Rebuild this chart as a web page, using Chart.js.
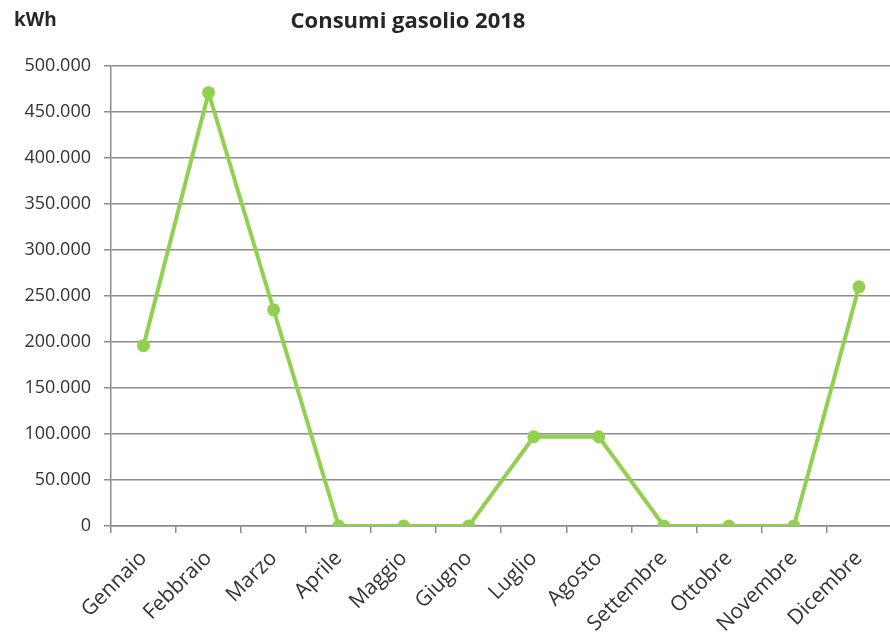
<!DOCTYPE html>
<html>
<head>
<meta charset="utf-8">
<script src="https://cdn.jsdelivr.net/npm/chart.js@4"></script>
<style>
    body { margin: 0; background: #fff; overflow: hidden; }
</style>
</head>
<body>
<canvas id="gas-chart" width="900" height="635"></canvas>
<script>
// Consumi gasolio 2018 (kWh)
const months = ['Gennaio', 'Febbraio', 'Marzo', 'Aprile', 'Maggio', 'Giugno',
    'Luglio', 'Agosto', 'Settembre', 'Ottobre', 'Novembre', 'Dicembre'];
const consumi = [196000, 471000, 235000, 0, 0, 0, 97000, 97000, 0, 0, 0, 260000];
const yTicks = [0, 50000, 100000, 150000, 200000, 250000, 300000, 350000, 400000, 450000, 500000];

const chartTitle = 'Consumi gasolio 2018';
const unitLabel = 'kWh';

// 500000 -> "500.000"
function formatIt(v) {
    return String(v).replace(/\B(?=(\d{3})+(?!\d))/g, '.');
}

// draws the unit and the title at the top
const headerPlugin = {
    id: 'header',
    afterDraw(chart) {
        const ctx = chart.ctx;
        ctx.save();
        ctx.fillStyle = '#262626';
        ctx.textBaseline = 'alphabetic';
        ctx.font = 'bold 19px "Open Sans"';
        ctx.textAlign = 'left';
        ctx.fillText(unitLabel, 14, 26);
        ctx.font = 'bold 22px "Open Sans"';
        ctx.textAlign = 'center';
        ctx.fillText(chartTitle, 408, 28);
        ctx.restore();
    }
};

const ctx = document.getElementById('gas-chart').getContext('2d');
new Chart(ctx, {
    type: 'line',
    data: {
        labels: months,
        datasets: [{
            data: consumi,
            borderColor: '#92d050',
            backgroundColor: '#92d050',
            borderWidth: 4,
            pointRadius: 4.5,
            pointHoverRadius: 4.5,
            tension: 0
        }]
    },
    options: {
        responsive: false,
        animation: false,
        layout: { padding: { top: 66, right: 2, left: 0, bottom: 0 } },
        plugins: {
            legend: { display: false },
            tooltip: { enabled: false }
        },
        scales: {
            x: {
                offset: true,
                grid: {
                    offset: true,
                    drawOnChartArea: false,
                    drawTicks: true,
                    tickLength: 7,
                    color: '#8c8c8c',
                    lineWidth: 1.5
                },
                border: { display: true, color: '#8c8c8c', width: 1.5 },
                ticks: {
                    autoSkip: false,
                    minRotation: 45,
                    maxRotation: 45,
                    color: '#333',
                    padding: 13,
                    font: { family: '"Open Sans"', size: 21 }
                },
                afterFit(scale) { scale.height = 109; }
            },
            y: {
                min: 0,
                max: 500000,
                afterBuildTicks(scale) {
                    scale.ticks = yTicks.map(v => ({ value: v }));
                },
                grid: {
                    color: '#8c8c8c',
                    lineWidth: 1.5,
                    tickLength: 7
                },
                border: { display: true, color: '#8c8c8c', width: 1.5 },
                ticks: {
                    color: '#333',
                    padding: 13,
                    font: { family: '"Open Sans"', size: 18 },
                    callback: v => formatIt(v)
                },
                afterFit(scale) { scale.width = 111; }
            }
        }
    },
    plugins: [headerPlugin]
});
</script>
</body>
</html>
